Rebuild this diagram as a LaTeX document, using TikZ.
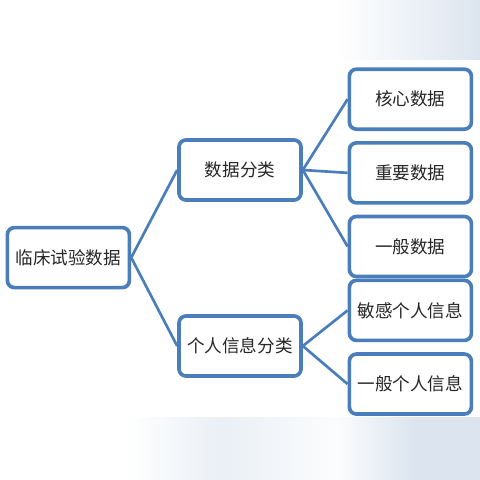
\documentclass[tikz,border=0pt]{standalone}
\usepackage{fontspec}
\usepackage{xcolor}
\usepackage{tikz}
\usetikzlibrary{positioning}
\newfontfamily\cjk{Noto Sans CJK SC}
\definecolor{boxblue}{HTML}{4A7EBB}
\definecolor{paleblue}{HTML}{DCE5EF}
\pgfdeclarehorizontalshading{topband}{100bp}{color(0bp)=(white); color(60bp)=(white); color(75bp)=(paleblue); color(100bp)=(paleblue)}
\pgfdeclarehorizontalshading{bottomband}{100bp}{color(0bp)=(white); color(38bp)=(white); color(48bp)=(paleblue!60); color(60bp)=(white!90!paleblue); color(68bp)=(paleblue); color(100bp)=(paleblue)}

\begin{document}
\begin{tikzpicture}
      \tikzset{box/.style={draw=boxblue, line width=2.6pt, rounded corners=5pt, fill=white,
          minimum width=3.05cm, minimum height=1.5cm, font=\cjk\fontsize{12.5}{15}\selectfont, text=black!85},
        link/.style={draw=boxblue, line width=1.9pt}}
      % background
      \useasboundingbox (0,0) rectangle (12,12);
      \shade[shading=topband] (0,10.5) rectangle (12,12);
      \shade[shading=bottomband] (0,0) rectangle (12,1.58);
      \fill[white] (0,1.58) rectangle (12,10.5);

      \node[box] (R) at (1.71,5.56) {临床试验数据};
      \node[box] (S) at (6.0,7.75) {数据分类};
      \node[box] (P) at (6.0,3.35) {个人信息分类};

      \node[box] (S1) at (10.26,9.52) {核心数据};
      \node[box, below=0.25cm of S1] (S2) {重要数据};
      \node[box, below=0.25cm of S2] (S3) {一般数据};
      \node[box] (P1) at (10.26,4.24) {敏感个人信息};
      \node[box, below=0.25cm of P1] (P2) {一般个人信息};

      \draw[link] (R.east) -- (S.west);
      \draw[link] (R.east) -- (P.west);
      \draw[link] (S.east) -- (S1.west);
      \draw[link] (S.east) -- (S2.west);
      \draw[link] (S.east) -- (S3.west);
      \draw[link] (P.east) -- (P1.west);
      \draw[link] (P.east) -- (P2.west);
    \end{tikzpicture}
\end{document}
